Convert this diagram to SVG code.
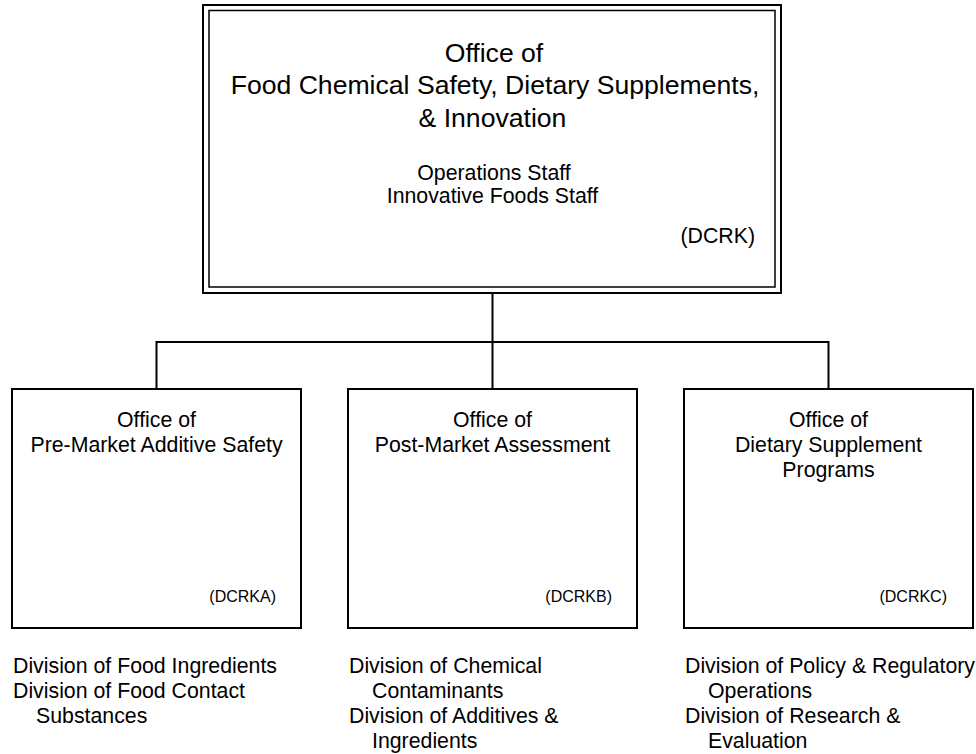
<svg xmlns="http://www.w3.org/2000/svg" width="976" height="754" viewBox="0 0 976 754">
<style>
text{font-family:"Liberation Sans",Arial,sans-serif;fill:#000}
.box{fill:#fff;stroke:#000;stroke-width:2}
.inner{fill:none;stroke:#000;stroke-width:1.5}
.conn{fill:none;stroke:#000;stroke-width:2}
.t1{font-size:26.6px;text-anchor:middle}
.t2{font-size:21.3px;text-anchor:middle}
.code{font-size:16px;text-anchor:end}
.div{font-size:21.3px}
</style>
<rect width="976" height="754" fill="#fff"/>
<g id="connectors">
<path class="conn" d="M492.5 293V389M156.5 389V342H828.5V389"/>
</g>
<g id="DCRK">
<rect class="box" x="203" y="5" width="578" height="288"/>
<rect class="inner" x="209" y="10.5" width="566" height="276.5"/>
<text class="t1" x="494" y="62">Office of</text>
<text class="t1" x="495" y="94">Food Chemical Safety, Dietary Supplements,</text>
<text class="t1" x="492.5" y="127">&amp; Innovation</text>
<text class="t2" x="494" y="180">Operations Staff</text>
<text class="t2" x="492.5" y="203">Innovative Foods Staff</text>
<text class="t2" x="755" y="243" style="text-anchor:end">(DCRK)</text>
</g>
<g id="DCRKA">
<rect class="box" x="12" y="389" width="289" height="239"/>
<text class="t2" x="156.5" y="427">Office of</text>
<text class="t2" x="156.5" y="452">Pre-Market Additive Safety</text>
<text class="code" x="276" y="602">(DCRKA)</text>
</g>
<g id="DCRKB">
<rect class="box" x="348" y="389" width="289" height="239"/>
<text class="t2" x="492.5" y="427">Office of</text>
<text class="t2" x="492.5" y="452">Post-Market Assessment</text>
<text class="code" x="612" y="602">(DCRKB)</text>
</g>
<g id="DCRKC">
<rect class="box" x="684" y="389" width="289" height="239"/>
<text class="t2" x="828.5" y="427">Office of</text>
<text class="t2" x="828.5" y="452">Dietary Supplement</text>
<text class="t2" x="828.5" y="477">Programs</text>
<text class="code" x="947" y="602">(DCRKC)</text>
</g>
<g id="divisions-A">
<text class="div" x="13" y="673">Division of Food Ingredients</text>
<text class="div" x="13" y="698">Division of Food Contact</text>
<text class="div" x="36" y="723">Substances</text>
</g>
<g id="divisions-B">
<text class="div" x="349" y="673">Division of Chemical</text>
<text class="div" x="372" y="698">Contaminants</text>
<text class="div" x="349" y="723">Division of Additives &amp;</text>
<text class="div" x="372" y="748">Ingredients</text>
</g>
<g id="divisions-C">
<text class="div" x="685" y="673">Division of Policy &amp; Regulatory</text>
<text class="div" x="708" y="698">Operations</text>
<text class="div" x="685" y="723">Division of Research &amp;</text>
<text class="div" x="708" y="748">Evaluation</text>
</g>
</svg>
